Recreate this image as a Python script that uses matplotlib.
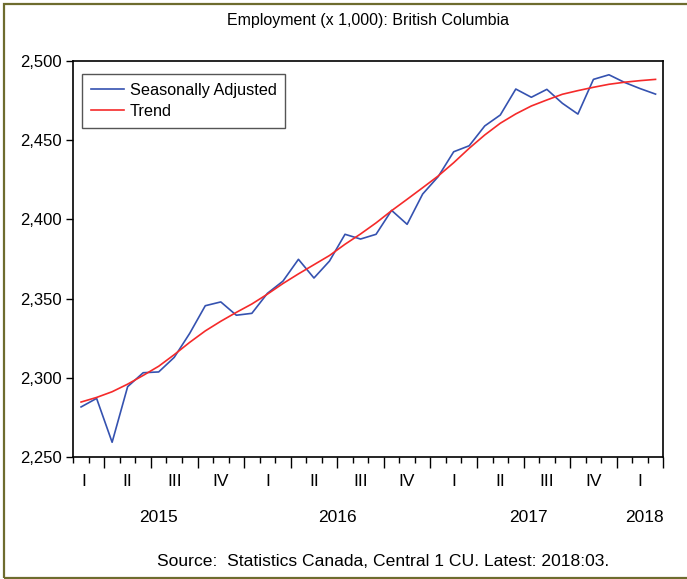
import matplotlib

matplotlib.use('Agg')

from matplotlib import pyplot as plt
from matplotlib.patches import Rectangle
from matplotlib import transforms
import numpy as np

plt.rcParams['font.family'] = ['Liberation Sans', 'DejaVu Sans']

# monthly, 2015:02 .. 2018:03
seasonally_adjusted = [
    2281.6, 2287.0, 2259.3, 2294.4, 2303.2, 2303.7, 2312.9, 2328.1, 2345.5, 2347.9,
    2339.5, 2340.7, 2353.3, 2361.0, 2374.8, 2363.0, 2373.7, 2390.6, 2387.6, 2390.6,
    2405.7, 2396.9, 2416.0, 2427.0, 2442.7, 2446.5, 2459.0, 2465.9, 2482.3, 2477.1,
    2482.1, 2473.3, 2466.5, 2488.4, 2491.3, 2486.5, 2482.6, 2479.1,
]
trend = [
    2284.7, 2287.6, 2291.2, 2296.0, 2301.5, 2307.3, 2314.6, 2322.4, 2329.6, 2335.7,
    2341.3, 2346.6, 2352.8, 2359.5, 2365.6, 2371.4, 2377.2, 2384.3, 2390.8, 2397.8,
    2405.5, 2412.7, 2420.0, 2427.4, 2435.8, 2444.9, 2453.3, 2460.7, 2466.6, 2471.6,
    2475.4, 2479.0, 2481.3, 2483.4, 2485.3, 2486.6, 2487.6, 2488.4,
]
quarter_labels = ['I', 'II', 'III', 'IV', 'I', 'II', 'III', 'IV', 'I', 'II', 'III', 'IV', 'I']
quarter_pos = [0.2, 3, 6, 9, 12, 15, 18, 21, 24, 27, 30, 33, 36]
year_labels = ['2015', '2016', '2017', '2018']
year_pos = [5.0, 16.5, 28.8, 36.3]
yticks = [2250, 2300, 2350, 2400, 2450, 2500]


def main():
  fig = plt.figure(figsize=(6.87, 5.79), dpi=100)
  ax = fig.add_axes([73.3 / 687, 1 - 457 / 579, 590 / 687, 396 / 579])

  x = np.arange(len(seasonally_adjusted))
  ax.plot(x, seasonally_adjusted, color='#3552b0', lw=1.2, label='Seasonally Adjusted')
  ax.plot(x, trend, color='#f52a2a', lw=1.2, label='Trend')

  ax.set_xlim(-0.5, len(x) - 0.5)
  ax.set_ylim(2250, 2500)
  ax.set_yticks(yticks)
  ax.set_yticklabels(['{:,}'.format(v) for v in yticks], fontsize=12)
  ax.set_xticks(np.arange(1.5, len(x), 3))
  ax.set_xticks(np.arange(-0.5, len(x) + 0.5, 1), minor=True)
  ax.set_xticklabels([])
  ax.tick_params(axis='y', direction='out', length=5, width=1, pad=3)
  ax.tick_params(axis='x', which='major', direction='out', length=8, width=1)
  ax.tick_params(axis='x', which='minor', direction='out', length=4, width=1)
  for s in ax.spines.values():
    s.set_linewidth(1.2)

  trans = transforms.blended_transform_factory(ax.transData, ax.transAxes)
  for p, lab in zip(quarter_pos, quarter_labels):
    ax.text(p, -0.061, lab, transform=trans, ha='center', va='center', fontsize=12.5)
  for p, lab in zip(year_pos, year_labels):
    ax.text(p, -0.152, lab, transform=trans, ha='center', va='center', fontsize=12.5)

  leg = ax.legend(loc='upper left', bbox_to_anchor=(0.015, 0.968), fontsize=11.7,
                  fancybox=False, framealpha=1, edgecolor='#555555',
                  handlelength=2.0, handletextpad=0.37, borderpad=0.55,
                  labelspacing=0.4, borderaxespad=0)
  leg.get_frame().set_linewidth(1.0)

  fig.text(368 / 687, 1 - 20 / 579, 'Employment (x 1,000): British Columbia',
           ha='center', va='center', fontsize=11.5)
  fig.text(383 / 687, 1 - 562 / 579,
           'Source:  Statistics Canada, Central 1 CU. Latest: 2018:03.',
           ha='center', va='center', fontsize=12.6)

  fig.patches.append(Rectangle((3.5 / 687, 1.5 / 579), 700 / 687, 574 / 579,
                               transform=fig.transFigure, fill=False,
                               edgecolor='#6e6c2e', lw=1.6))

  fig.savefig('out.png', dpi=100)


if __name__ == '__main__':
  main()
